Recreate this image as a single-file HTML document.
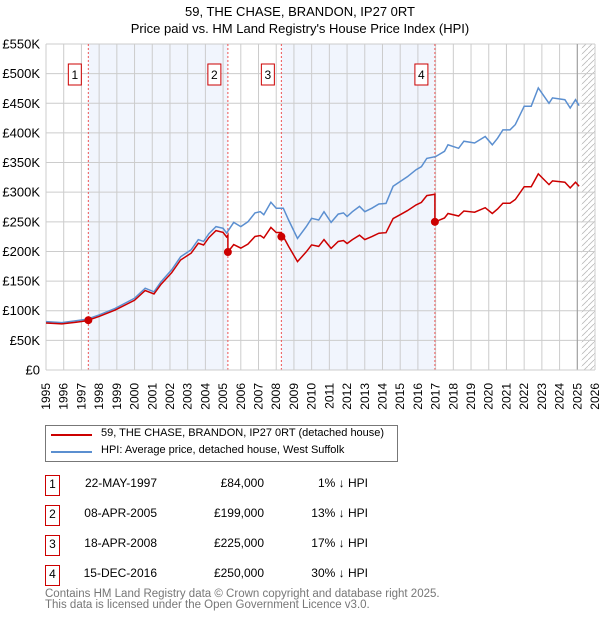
<!DOCTYPE html>
<html><head><meta charset="utf-8">
<style>
body{margin:0;background:#fff;font-family:"Liberation Sans","DejaVu Sans",sans-serif;}
#wrap{position:relative;width:600px;height:620px;overflow:hidden;}
.t{position:absolute;white-space:nowrap;color:#000;}
</style></head>
<body>
<div id="wrap">
<div class="t" style="left:0;width:600px;text-align:center;top:4px;font-size:13px;">59, THE CHASE, BRANDON, IP27 0RT</div>
<div class="t" style="left:0;width:600px;text-align:center;top:21px;font-size:13px;">Price paid vs. HM Land Registry's House Price Index (HPI)</div>
<svg id="chart" width="600" height="420" style="position:absolute;left:0;top:0" font-family="Liberation Sans, DejaVu Sans, sans-serif"></svg>

<div style="position:absolute;left:45px;top:425px;width:351px;height:35px;border:1px solid #777;">
 <div><div style="position:absolute;left:5px;top:8px;width:41px;height:2px;background:#c00"></div><div class="t" style="left:55px;top:1px;font-size:11px">59, THE CHASE, BRANDON, IP27 0RT (detached house)</div></div>
 <div><div style="position:absolute;left:5px;top:25px;width:41px;height:2px;background:#5b8fd0"></div><div class="t" style="left:55px;top:18px;font-size:11px">HPI: Average price, detached house, West Suffolk</div></div>
</div>
<div id="tbl"></div>
<div class="t" style="left:45px;top:589px;font-size:11.5px;color:#777;line-height:10.5px">Contains HM Land Registry data © Crown copyright and database right 2025.<br>This data is licensed under the Open Government Licence v3.0.</div>
</div>
<script>
const hpiYears=[1995.0,1995.9,1996.7,1997.3,1998.0,1998.9,2000.0,2000.6,2001.1,2001.5,2002.1,2002.6,2003.2,2003.6,2003.9,2004.2,2004.6,2005.0,2005.2,2005.6,2006.0,2006.4,2006.8,2007.1,2007.3,2007.7,2008.0,2008.4,2008.7,2009.2,2009.7,2010.0,2010.4,2010.7,2011.1,2011.5,2011.8,2012.0,2012.3,2012.7,2013.0,2013.4,2013.8,2014.2,2014.6,2015.0,2015.4,2015.9,2016.2,2016.5,2017.0,2017.5,2017.7,2018.3,2018.6,2019.2,2019.8,2020.2,2020.5,2020.8,2021.2,2021.5,2022.0,2022.4,2022.8,2023.4,2023.6,2024.3,2024.6,2024.9,2025.1];
const hpiValues=[81.6,80,83,85.5,93,104,121,138,132,149,169,191,203,220,217,230,242,239,231,249,242,250,265,267,262,283,273,273,253,222,242,256,253,267,249,263,265,259,267,276,267,273,280,281,310,318,326,338,343,357,360,369,380,374,386,383,394,380,391,405,405,414,445,445,476,450,459,456,442,456,446];
const saleLabels=["1","2","3","4"];
const saleDates=[1997.39,2005.27,2008.29,2016.96];
const salePrices=[84,199,225,250];
const saleDateText=["22-MAY-1997","08-APR-2005","18-APR-2008","15-DEC-2016"];
const salePriceText=["£84,000","£199,000","£225,000","£250,000"];
const saleHpiText=["1% ↓ HPI","13% ↓ HPI","17% ↓ HPI","30% ↓ HPI"];
const yTicks=[0,50,100,150,200,250,300,350,400,450,500,550];
const yTickLabels=["£0","£50K","£100K","£150K","£200K","£250K","£300K","£350K","£400K","£450K","£500K","£550K"];
const xStart=1995,xEnd=2026,dataEnd=2025.25;

const X0=46,X1=595,Y0=370,Y1=44;
const sx=y=>X0+(y-xStart)/(xEnd-xStart)*(X1-X0);
const sy=v=>Y0-v/550*(Y0-Y1);
const NS="http://www.w3.org/2000/svg";
const svg=document.getElementById('chart');
function mk(tag,attrs,parent){const e=document.createElementNS(NS,tag);for(const k in attrs)e.setAttribute(k,attrs[k]);(parent||svg).appendChild(e);return e;}
function hpiAt(t){for(let i=0;i<hpiYears.length-1;i++){if(t<=hpiYears[i+1]){const f=(t-hpiYears[i])/(hpiYears[i+1]-hpiYears[i]);return hpiValues[i]+f*(hpiValues[i+1]-hpiValues[i]);}}return hpiValues[hpiValues.length-1];}

for(let i=0;i<saleDates.length;i+=2){
 const e2=i+1<saleDates.length?saleDates[i+1]:dataEnd;
 const r=mk('rect',{x:sx(saleDates[i]),y:Y1,width:sx(e2)-sx(saleDates[i]),height:Y0-Y1,fill:'#eef3fc',opacity:0.8});
 
 
}
const defs=mk('defs',{});
const pat=mk('pattern',{id:'hatch',width:6,height:6,patternUnits:'userSpaceOnUse'},defs);
mk('path',{d:'M0,6 L6,0',stroke:'#bbb','stroke-width':0.8},pat);
const hr=mk('rect',{x:sx(dataEnd),y:Y1,width:X1-sx(dataEnd),height:Y0-Y1,fill:'url(#hatch)'});


for(let y=xStart;y<=xEnd;y++){
 const g=mk('line',{x1:sx(y),x2:sx(y),y1:Y1,y2:Y0,stroke:'#ccc','stroke-width':1});
 
 
 const t=mk('text',{x:0,y:0,transform:`translate(${sx(y)+4},${Y0+13}) rotate(-90)`,'text-anchor':'end','font-size':12,fill:'#000'});
 t.textContent=String(y);
 
 
}
yTicks.forEach((v,i)=>{
 const g=mk('line',{x1:X0,x2:X1,y1:sy(v),y2:sy(v),stroke:'#ccc','stroke-width':1});
 
 
 const t=mk('text',{x:X0-6,y:sy(v)+4.5,'text-anchor':'end','font-size':13,fill:'#000'});
 t.textContent=yTickLabels[i];
 
 
});
const el=mk('line',{x1:sx(2025.0),x2:sx(2025.0),y1:Y1,y2:Y0,stroke:'#999','stroke-width':1});


saleDates.forEach((d,i)=>{
 const l=mk('line',{x1:sx(d),x2:sx(d),y1:Y1,y2:Y0,stroke:'#e55','stroke-width':1,'stroke-dasharray':'2,2'});
 
 
});
let p='';hpiYears.forEach((y,i)=>{p+=(i?'L':'M')+sx(y).toFixed(1)+','+sy(hpiValues[i]).toFixed(1);});
const hl=mk('path',{d:p,fill:'none',stroke:'#5b8fd0','stroke-width':1.5});


const ts=[...hpiYears,...saleDates].sort((a,b)=>a-b);
let rp='';let first=true;
for(let k=0;k<ts.length;k++){
 const t=ts[k];let si=0;for(let j=0;j<saleDates.length;j++)if(t>=saleDates[j])si=j;
 let v=salePrices[si]*hpiAt(t)/hpiAt(saleDates[si]);
 if(saleDates.includes(t)&&si>0){const prev=salePrices[si-1]*hpiAt(t)/hpiAt(saleDates[si-1]);rp+=(first?'M':'L')+sx(t).toFixed(1)+','+sy(prev).toFixed(1);first=false;}
 rp+=(first?'M':'L')+sx(t).toFixed(1)+','+sy(v).toFixed(1);first=false;
}
const pl=mk('path',{d:rp,fill:'none',stroke:'#c00','stroke-width':1.5});


saleDates.forEach((d,i)=>{
 const c=mk('circle',{cx:sx(d),cy:sy(salePrices[i]),r:4,fill:'#c00'});
 
 
 const g=mk('g',{});
 
 
 mk('rect',{x:sx(d)-20,y:64,width:13,height:21,fill:'#fff',stroke:'#c00','stroke-width':1},g);
 const t=mk('text',{x:sx(d)-13.5,y:79,'text-anchor':'middle','font-size':12,fill:'#000'},g);
 t.textContent=saleLabels[i];
});
const ax=mk('line',{x1:X0,x2:X1,y1:Y0,y2:Y0,stroke:'#ccc'});



const tbl=document.getElementById('tbl');
saleDates.forEach((d,i)=>{
 const top=475+i*30;
 const row=document.createElement('div');
 
 
 row.innerHTML=`<div style="position:absolute;left:45px;top:${top}px;width:13px;height:19px;border:1px solid #c00;font-size:12px;text-align:center;line-height:17px">${saleLabels[i]}</div>
 <div class="t" style="left:60px;width:97px;text-align:right;top:${top+1}px;font-size:12px">${saleDateText[i]}</div>
 <div class="t" style="left:180px;width:84px;text-align:right;top:${top+1}px;font-size:12px">${salePriceText[i]}</div>
 <div class="t" style="left:280px;width:88px;text-align:right;top:${top+1}px;font-size:12px">${saleHpiText[i]}</div>`;
 tbl.appendChild(row);
});
</script>
</body></html>
